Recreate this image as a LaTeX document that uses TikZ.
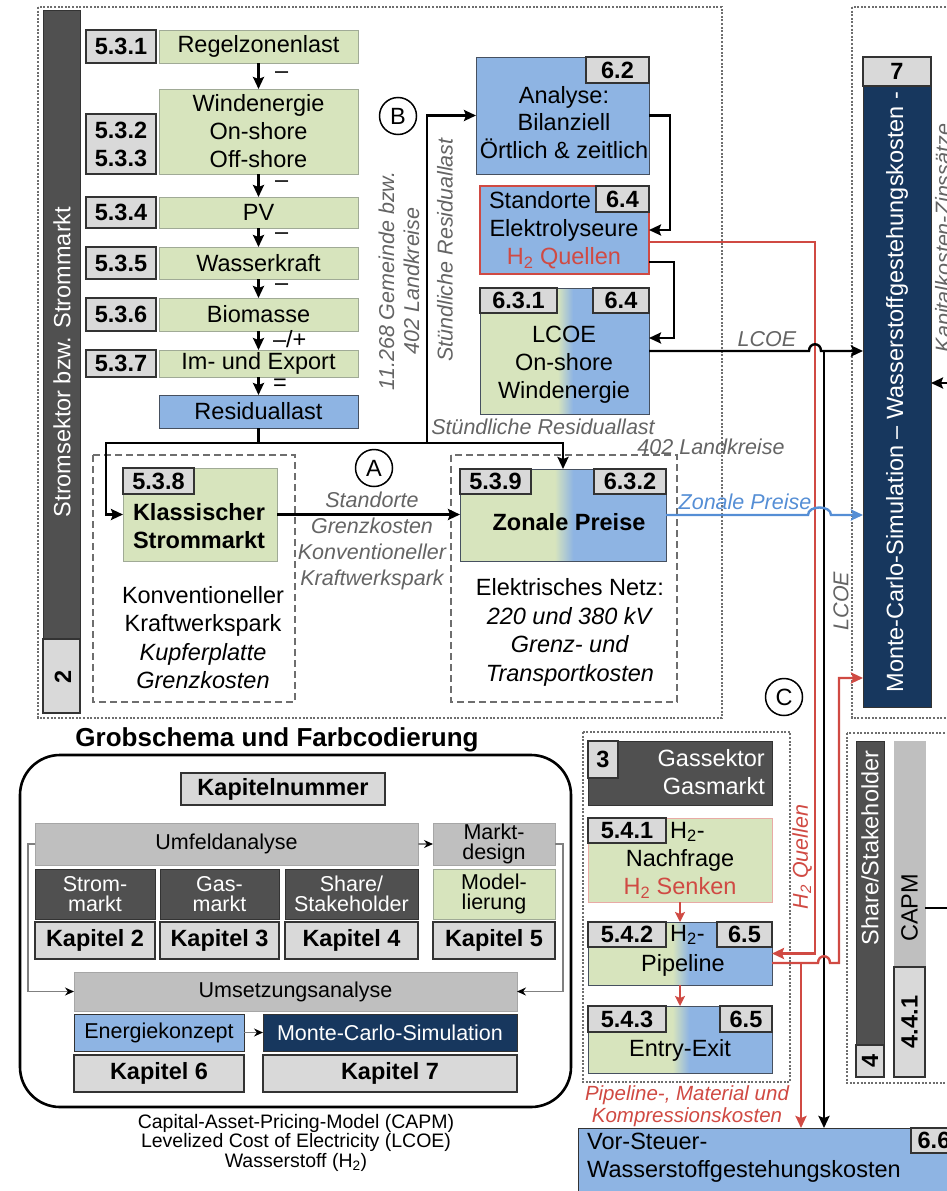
\documentclass[tikz,border=0pt]{standalone}
\usepackage{fontspec}
\setmainfont{Liberation Sans}
\usetikzlibrary{arrows.meta}
\definecolor{mygreen}{RGB}{215,228,189}
\definecolor{myblue}{RGB}{142,180,227}
\definecolor{numgray}{RGB}{217,217,217}
\definecolor{midgray}{RGB}{191,191,191}
\definecolor{darkbar}{RGB}{80,80,80}
\definecolor{navy}{RGB}{23,55,94}
\definecolor{myred}{RGB}{208,74,67}
\definecolor{lightred}{RGB}{232,170,165}
\definecolor{lineblue}{RGB}{85,142,213}
\definecolor{labgray}{RGB}{100,100,100}
\definecolor{dotgray}{RGB}{110,110,110}
\definecolor{grnborder}{RGB}{160,170,150}
\definecolor{bluborder}{RGB}{70,80,95}
\pgfdeclarehorizontalshading{greenblue}{100bp}{color(0bp)=(mygreen); color(48bp)=(mygreen); color(52.5bp)=(myblue); color(100bp)=(myblue)}
\newcommand{\fmain}{\fontsize{23.5}{28}\selectfont}
\newcommand{\flab}{\fontsize{21.5}{26}\selectfont}
\newcommand{\fleg}{\fontsize{21.5}{20.5}\selectfont}
\newcommand{\fnote}{\fontsize{19.5}{19.5}\selectfont}
\newcommand{\ftitle}{\fontsize{26}{30}\selectfont}
\newcommand{\Hz}{H\textsubscript{2}}
\tikzset{
  cbox/.style={draw,inner sep=0pt,outer sep=0pt,line width=1pt,font=\fmain},
  wh/.style 2 args={minimum width=#1pt,minimum height=#2pt},
  numbox/.style={cbox,draw=black!80,fill=numgray,line width=1.4pt,font=\fmain\bfseries},
  grnbox/.style={cbox,draw=grnborder,fill=mygreen},
  blubox/.style={cbox,draw=bluborder,fill=myblue},
  gbbox/.style={cbox,draw=bluborder,shade,shading=greenblue},
  darkbox/.style={cbox,draw=black!80,fill=darkbar,text=white},
  txt/.style={inner sep=0pt,font=\fmain,align=center},
  glab/.style={inner sep=0pt,font=\flab\itshape,text=labgray,align=center},
  ln/.style={line width=2.4pt},
  arr/.style={ln,-{Stealth[length=12pt,width=11pt,inset=2pt]}},
  rarr/.style={arr,draw=myred},
  thinarr/.style={draw=gray,line width=1.2pt,-{Stealth[length=9pt,width=8pt,color=black]}},
  dotbox/.style={draw=dotgray,line width=1.3pt,dash pattern=on 2pt off 1.6pt},
  dashbox/.style={draw=dotgray,line width=1.4pt,dash pattern=on 7pt off 4pt},
  circ/.style={circle,draw,line width=1.5pt,minimum size=37pt,inner sep=0pt,font=\fmain}
}

\begin{document}
\begin{tikzpicture}[x=1pt,y=-1pt]
\useasboundingbox (0,0) rectangle (947,1191);

% frames
\draw[dotbox] (38,7) rectangle (722,718);
\draw[dotbox] (852,7) rectangle (960,718);
\draw[dotbox] (583,732) rectangle (790,1082);
\draw[dotbox] (847,733) rectangle (960,1083);
\draw[dashbox] (93,455) rectangle (295,702);
\draw[dashbox] (451,455) rectangle (677,702);

% Stromsektor
\node[darkbox,wh={37}{629}] (sbar) at (61.5,324.5) {};
\node[numbox,wh={37}{74}] (n2) at (61.5,676) {};
\node[txt,text=white,rotate=90] (sbar-t) at (62,362) {Stromsektor bzw. Strommarkt};
\node[txt,font=\fmain\bfseries,rotate=90] (n2-t) at (63,677) {2};

\node[numbox,wh={70}{33}] (n531) at (121,46.5) {5.3.1};
\node[grnbox,wh={199}{33}] (rzl) at (258.5,46.5) {Regelzonenlast};
\node[grnbox,wh={199}{85},align=center] (wind) at (258.5,131.5) {Windenergie\\On-shore\\Off-shore};
\node[numbox,wh={70}{60},align=center] (n532) at (121,144) {5.3.2\\5.3.3};
\node[numbox,wh={70}{31}] (n534) at (121,212.5) {5.3.4};
\node[grnbox,wh={199}{31}] (pv) at (258.5,212.5) {PV};
\node[numbox,wh={70}{32}] (n535) at (121,263) {5.3.5};
\node[grnbox,wh={199}{32}] (wass) at (258.5,263) {Wasserkraft};
\node[numbox,wh={70}{33}] (n536) at (121,314.5) {5.3.6};
\node[grnbox,wh={199}{33}] (bio) at (258.5,314.5) {Biomasse};
\node[numbox,wh={70}{27}] (n537) at (121,363.5) {5.3.7};
\node[grnbox,wh={199}{27}] (imex) at (258.5,363.5) {Im- und Export};
\node[blubox,wh={199}{33}] (resid) at (258.5,411.5) {Residuallast};
\draw[arr] (rzl) -- (wind) node[pos=.45,anchor=west,xshift=12pt,font=\fmain] {–};
\draw[arr] (wind) -- (pv) node[pos=.45,anchor=west,xshift=12pt,font=\fmain] {–};
\draw[arr] (pv) -- (wass) node[pos=.45,anchor=west,xshift=12pt,font=\fmain] {–};
\draw[arr] (wass) -- (bio) node[pos=.45,anchor=west,xshift=12pt,font=\fmain] {–};
\draw[arr] (bio) -- (imex) node[pos=.45,anchor=west,xshift=10pt,font=\fmain] {–/+};
\draw[arr] (imex) -- (resid) node[pos=.45,anchor=west,xshift=10pt,font=\fmain] {=};

% Klassischer Strommarkt
\node[grnbox,wh={154}{93}] (klass) at (200,514.5) {};
\node[numbox,wh={71}{26}] (n538) at (158.5,481) {5.3.8};
\node[txt,font=\fmain\bfseries] (klass-t) at (199,526) {Klassischer\\Strommarkt};
\node[txt,font=\fontsize{23.5}{28.5}\selectfont] (klass-u) at (203,637.5) {Konventioneller\\Kraftwerkspark\\\textit{Kupferplatte}\\\textit{Grenzkosten}};
\node[circ] (cA) at (374,468) {A};
\node[glab] (klass-l) at (372,541) {Standorte\\Grenzkosten\\Konventioneller\\Kraftwerkspark};

% Zonale Preise
\node[gbbox,wh={206}{92}] (zon) at (563,515) {};
\node[numbox,wh={71}{25}] (n539) at (495.5,481.5) {5.3.9};
\node[numbox,wh={72}{25}] (n632) at (630,481.5) {6.3.2};
\node[txt,font=\fmain\bfseries] (zon-t) at (569,522) {Zonale Preise};
\node[txt,font=\fontsize{23.5}{28.5}\selectfont] (zon-u) at (570,632.5) {Elektrisches Netz:\\\textit{220 und 380 kV}\\\textit{Grenz- und}\\\textit{Transportkosten}};
\node[glab] (res-l) at (543,427) {Stündliche Residuallast};
\node[glab] (lk-l) at (711,447) {402 Landkreise};
\node[glab,text=lineblue] (zp-l) at (745,502) {Zonale Preise};
\draw[arr] (klass.east) -- (klass.east -| zon.west);

% Energiekonzept
\node[blubox,wh={173}{117}] (ana) at (562.5,115.5) {};
\node[numbox,wh={63}{26}] (n62) at (617.5,70) {6.2};
\node[txt,font=\fontsize{23.5}{27.5}\selectfont] (ana-t) at (564,122.5) {Analyse:\\Bilanziell\\Örtlich \& zeitlich};
\node[blubox,draw=myred,line width=1.5pt,wh={169}{88}] (stand) at (564.5,230) {};
\node[numbox,wh={53}{26}] (n64a) at (622.5,199) {6.4};
\node[txt] (stand-a) at (540,200) {Standorte};
\node[txt] (stand-t) at (564,244) {Elektrolyseure\\\textcolor{myred}{\Hz{} Quellen}};
\node[gbbox,wh={169}{126}] (lcoe) at (564.5,351) {};
\node[numbox,wh={77}{25}] (n631) at (518.5,300.5) {6.3.1};
\node[numbox,wh={56}{25}] (n64b) at (621,300.5) {6.4};
\node[txt] (lcoe-t) at (564,364.5) {LCOE\\On-shore\\Windenergie};
\node[circ] (cB) at (398,116) {B};
\node[glab,rotate=90] (res-v) at (445,250) {Stündliche Residuallast};
\node[glab,rotate=90,font=\fontsize{21.5}{25}\selectfont\itshape] (gem-v) at (399,281) {11.268 Gemeinde bzw.\\402 Landkreise};
\node[glab] (lcoe-l) at (767,339) {LCOE};
\node[glab,rotate=90] (lcoe-v) at (841,601) {LCOE};
\node[circ] (cC) at (784,697) {C};
\draw[arr] (ana.east) -- ++(21,0) |- (stand.east);
\draw[arr] ([yshift=-32pt]stand.east) -- ++(25,0) |- ([yshift=13pt]lcoe.east);

% Residuallast verteilen
\coordinate (jres) at (258.5,443);
\draw[ln] (resid) -- (jres);
\draw[arr] (jres) -| ([xshift=-17pt]klass.west) -- (klass.west);
\draw[arr] (jres) -| ([xshift=-49pt]ana.west) -- (ana.west);
\draw[arr] (jres) -| (zon.north);

% Monte-Carlo
\node[cbox,draw=black!80,fill=navy,wh={68}{621}] (mc) at (897,396.5) {};
\node[numbox,wh={68}{29}] (n7) at (897,71.5) {7};
\node[txt,text=white,rotate=90] (mc-t) at (897,392) {Monte-Carlo-Simulation – Wasserstoffgestehungskosten -};
\node[glab,rotate=90] (kap-t) at (945,238) {Kapitalkosten-Zinssätze};
\coordinate (kapin) at (947,383);
\draw[arr] (kapin) -- (kapin -| mc.east);

% Gassektor
\node[darkbox,wh={184}{64}] (gsek) at (680,773) {};
\node[numbox,wh={30}{37}] (n3) at (603,759.5) {3};
\node[txt,text=white,align=right,anchor=east] (gsek-t) at (765,772) {Gassektor\\Gasmarkt};
\node[grnbox,draw=lightred,wh={184}{84}] (nach) at (680,860) {};
\node[numbox,wh={78}{25}] (n541) at (627,830.5) {5.4.1};
\node[txt,anchor=west] (nach-h) at (670,832) {\Hz-};
\node[txt] (nach-t) at (680,874) {Nachfrage\\\textcolor{myred}{\Hz{} Senken}};
\node[gbbox,wh={184}{63}] (pipe) at (680,953.5) {};
\node[numbox,wh={78}{25}] (n542) at (627,934.5) {5.4.2};
\node[numbox,wh={55}{25}] (n65a) at (744.5,934.5) {6.5};
\node[txt,anchor=west] (pipe-h) at (670,935) {\Hz-};
\node[txt] (pipe-t) at (683,965) {Pipeline};
\node[gbbox,wh={184}{67}] (entry) at (680,1039.5) {};
\node[numbox,wh={78}{26}] (n543) at (627,1019) {5.4.3};
\node[numbox,wh={52}{26}] (n65b) at (746,1019) {6.5};
\node[txt] (entry-t) at (680,1050) {Entry-Exit};
\draw[myred,line width=2pt,-{Stealth[length=10pt,width=10pt,inset=2pt]}] (nach) -- (pipe);
\draw[myred,line width=2pt,-{Stealth[length=10pt,width=10pt,inset=2pt]}] (pipe) -- (entry);
\node[glab,text=myred,font=\fontsize{20.5}{21.5}\selectfont\itshape] (pmk-t) at (687,1106) {Pipeline-, Material und\\Kompressionskosten};
\node[glab,text=myred,rotate=90] (hq-t) at (802,857) {\Hz{} Quellen};

% Share/Stakeholder
\node[darkbox,wh={28}{304}] (shbar) at (870,893) {};
\node[numbox,wh={28}{32}] (n4) at (870,1061) {};
\node[txt,text=white,rotate=90] (shbar-t) at (870,848) {Share/Stakeholder};
\node[txt,font=\fmain\bfseries,rotate=90] (n4-t) at (870,1061) {4};
\node[cbox,draw=midgray,fill=midgray,wh={31}{226}] (capm) at (909.5,854) {};
\node[numbox,wh={31}{110}] (n441) at (909.5,1022) {};
\node[txt,rotate=90] (capm-t) at (909.5,908) {CAPM};
\node[txt,font=\fmain\bfseries,rotate=90] (n441-t) at (909.5,1022) {4.4.1};
\coordinate (capmout) at (947,908);
\draw[ln] (capm.east |- capmout) -- (capmout);

% Gestehungskosten
\node[blubox,draw=black!80,wh={382}{72}] (vor) at (769,1164) {};
\node[numbox,wh={46}{25}] (n66) at (934,1140.5) {6.6};
\node[txt,align=left,anchor=west] (vor-t) at (587,1158) {Vor-Steuer-\\Wasserstoffgestehungskosten};

% Verbindungen nach rechts
\coordinate (jlcoe) at (824,351);
\coordinate (rq) at (815,953.5);
\coordinate (jpipe) at (801,963);
\coordinate (rc) at (839,678);
\draw[rarr] ([yshift=-12pt]stand.east) -| (rq) -- (pipe.east);
\draw[arr] (lcoe.east) -- (809,351) .. controls (809,342) and (821,342) .. (821,351) -- (lcoe.east -| mc.west);
\draw[arr] (jlcoe) -- (jlcoe |- vor.north);
\draw[arr,draw=lineblue] (zon.east) -- (808,515) .. controls (808,505) and (831,505) .. (831,515) -- (zon.east -| mc.west);
\draw[rarr] ([yshift=-9.5pt]pipe.east) -- (818,963) .. controls (818,954) and (830,954) .. (830,963) -| (rc) -- (rc -| mc.west);
\draw[rarr] (jpipe) -- (jpipe |- vor.north);

% Legende
\node[font=\ftitle\bfseries,inner sep=0pt] (leg-title) at (277,740) {Grobschema und Farbcodierung};
\node[draw,line width=2.6pt,rounded corners=40pt,wh={551}{352},inner sep=0pt] (legbox) at (295.5,931) {};
\node[numbox,wh={204}{32}] (kapn) at (283,789) {Kapitelnummer};
\node[cbox,draw=gray!70,fill=midgray,wh={383}{42},font=\fleg] (umf) at (226.5,844) {Umfeldanalyse};
\node[cbox,draw=gray!70,fill=midgray,wh={122}{42},font=\fleg,align=center] (markt) at (494,844) {Markt-\\design};
\node[darkbox,wh={120}{50},font=\fleg,align=center] (strm) at (95,894) {Strom-\\markt};
\node[darkbox,wh={119}{50},font=\fleg,align=center] (gasm) at (219.5,894) {Gas-\\markt};
\node[darkbox,wh={133}{50},font=\fleg,align=center] (shst) at (351.5,894) {Share/\\Stakeholder};
\node[grnbox,wh={122}{50},font=\fleg,align=center] (modl) at (494,894) {Model-\\lierung};
\node[numbox,wh={120}{37}] (k2) at (95,940.5) {Kapitel 2};
\node[numbox,wh={119}{37}] (k3) at (219.5,940.5) {Kapitel 3};
\node[numbox,wh={133}{37}] (k4) at (351.5,940.5) {Kapitel 4};
\node[numbox,wh={122}{37}] (k5) at (494,940.5) {Kapitel 5};
\node[cbox,draw=gray!70,fill=midgray,wh={443}{39},font=\fleg] (ums) at (295.5,991.5) {Umsetzungsanalyse};
\node[blubox,draw=black!80,wh={170}{37},font=\fleg] (ekon) at (159,1032.5) {Energiekonzept};
\node[cbox,draw=black!80,fill=navy,text=white,wh={254}{37},font=\fleg] (mcsim) at (390,1032.5) {Monte-Carlo-Simulation};
\node[numbox,wh={170}{37}] (k6) at (159,1073.5) {Kapitel 6};
\node[numbox,wh={254}{37}] (k7) at (390,1073.5) {Kapitel 7};
\draw[thinarr] (umf) -- (markt);
\draw[thinarr] (umf.west) -- ++(-7,0) |- (ums.west);
\draw[thinarr] (markt.east) -- ++(8,0) |- (ums.east);
\draw[thinarr] (ekon) -- (mcsim);
\node[txt,font=\fnote] (foot) at (296,1142.5) {Capital-Asset-Pricing-Model (CAPM)\\Levelized Cost of Electricity (LCOE)\\Wasserstoff (\Hz)};
\end{tikzpicture}
\end{document}
